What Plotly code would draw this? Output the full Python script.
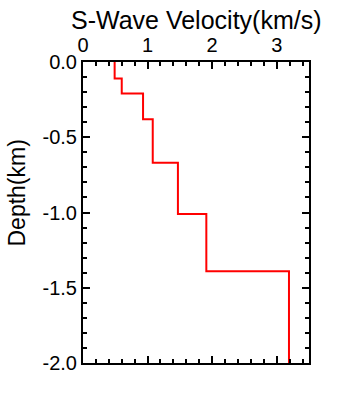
import plotly.graph_objects as go

velocity = [0.49, 0.6, 0.93, 1.08, 1.47, 1.91, 3.19, 3.19]
depth = [0.0, -0.11, -0.21, -0.38, -0.67, -1.01, -1.39, -2.0]
x_ticks = [0, 1, 2, 3]
y_ticks = [0.0, -0.5, -1.0, -1.5, -2.0]
y_tick_text = ["0.0", "-0.5", "-1.0", "-1.5", "-2.0"]

FONT = "Liberation Sans, Arial, sans-serif"

fig = go.Figure()
fig.add_trace(go.Scatter(x=velocity, y=depth, mode="lines", line_shape="vh",
                         line=dict(color="#ff0000", width=2), showlegend=False))

axis_common = dict(showline=True, linecolor="black", linewidth=2, mirror="allticks",
                   ticks="inside", tickcolor="black", tickwidth=2, ticklen=7,
                   showgrid=False, zeroline=False, automargin=False,
                   tickfont=dict(family=FONT, size=20, color="black"))

fig.update_xaxes(range=[0, 3.5], side="top", tickvals=x_ticks,
                 minor=dict(dtick=0.2, ticks="inside", ticklen=4, tickwidth=2, tickcolor="black"),
                 **axis_common)
fig.update_yaxes(range=[-2.0, 0.0], tickvals=y_ticks, ticktext=y_tick_text,
                 minor=dict(dtick=0.1, ticks="inside", ticklen=4, tickwidth=2, tickcolor="black"),
                 **axis_common)

fig.update_layout(
    width=349, height=397,
    margin=dict(l=83, r=40, t=62, b=34),
    paper_bgcolor="white", plot_bgcolor="white",
    annotations=[
        dict(text="S-Wave Velocity(km/s)", xref="paper", yref="paper", x=0.5, y=1,
             yshift=26, xanchor="center", yanchor="bottom", showarrow=False,
             font=dict(family=FONT, size=25, color="black")),
        dict(text="Depth(km)", xref="paper", yref="paper", x=0, xshift=-67, y=0.5, yshift=19,
             xanchor="center", yanchor="middle", textangle=-90, showarrow=False,
             borderpad=0, font=dict(family=FONT, size=23, color="black")),
    ],
)

fig.write_html("out.html", config={"displayModeBar": False},
               post_script="document.body.style.margin='0';document.body.style.overflow='hidden';")
